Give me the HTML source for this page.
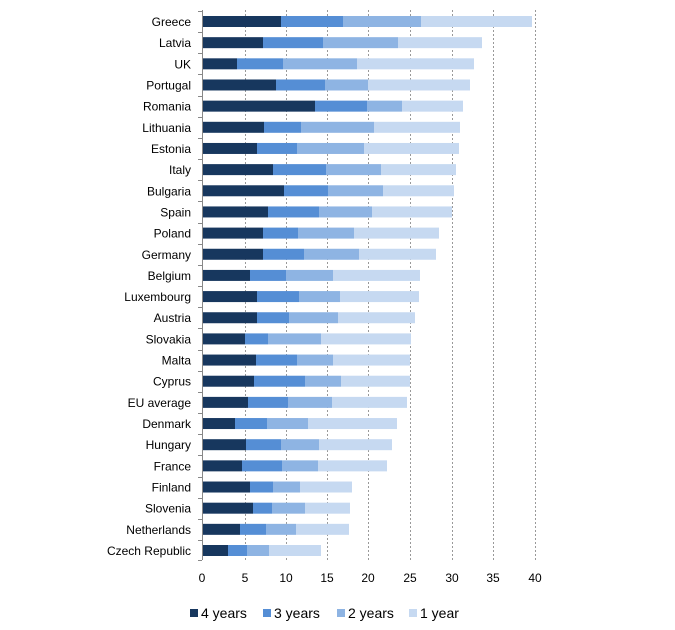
<!DOCTYPE html>
<html><head><meta charset="utf-8"><style>
html,body{margin:0;padding:0;background:#fff;}
svg{display:block;font-family:"Liberation Sans",Arial,sans-serif;}
</style></head><body>
<svg width="675" height="630" viewBox="0 0 675 630" xmlns="http://www.w3.org/2000/svg">
<g stroke="#999" stroke-width="1" stroke-dasharray="2,2">
<line x1="245.5" y1="10" x2="245.5" y2="560"/>
<line x1="286.5" y1="10" x2="286.5" y2="560"/>
<line x1="327.5" y1="10" x2="327.5" y2="560"/>
<line x1="368.5" y1="10" x2="368.5" y2="560"/>
<line x1="410.5" y1="10" x2="410.5" y2="560"/>
<line x1="452.5" y1="10" x2="452.5" y2="560"/>
<line x1="493.5" y1="10" x2="493.5" y2="560"/>
<line x1="535.5" y1="10" x2="535.5" y2="560"/>
</g>
<g id="bars"></g>
<line x1="202.5" y1="10" x2="202.5" y2="560" stroke="#888" stroke-width="1"/>
<g id="ticks" stroke="#888"></g>
<g id="labels" font-size="12" fill="#000" text-anchor="end"></g>
<g font-size="12" fill="#000" text-anchor="middle">
<text x="202" y="582">0</text><text x="245" y="582">5</text><text x="286" y="582">10</text>
<text x="327" y="582">15</text><text x="368" y="582">20</text><text x="410" y="582">25</text>
<text x="452" y="582">30</text><text x="493" y="582">35</text><text x="535" y="582">40</text>
</g>
<g font-size="14" fill="#000">
<rect x="190" y="609" width="8" height="8" fill="#17375e"/><text x="201" y="618">4 years</text>
<rect x="263" y="609" width="8" height="8" fill="#558ed5"/><text x="274" y="618">3 years</text>
<rect x="337" y="609" width="8" height="8" fill="#8eb4e3"/><text x="348" y="618">2 years</text>
<rect x="409" y="609" width="8" height="8" fill="#c6d9f1"/><text x="420" y="618">1 year</text>
</g>
<script>
var d=[["Greece",281,343,421,532],["Latvia",263,323,398,482],["UK",237,283,357,474],["Portugal",276,325,368,470],["Romania",315,367,402,463],["Lithuania",264,301,374,460],["Estonia",257,297,364,459],["Italy",273,326,381,456],["Bulgaria",284,328,383,454],["Spain",268,319,372,452],["Poland",263,298,354,439],["Germany",263,304,359,436],["Belgium",250,286,333,420],["Luxembourg",257,299,340,419],["Austria",257,289,338,415],["Slovakia",245,268,321,411],["Malta",256,297,333,410],["Cyprus",254,305,341,410],["EU average",248,288,332,407],["Denmark",235,267,308,397],["Hungary",246,281,319,392],["France",242,282,318,387],["Finland",250,273,300,352],["Slovenia",253,272,305,350],["Netherlands",240,266,296,349],["Czech Republic",228,247,269,321]];
var c=["#17375e","#558ed5","#8eb4e3","#c6d9f1"],ns="http://www.w3.org/2000/svg";
var b=document.getElementById("bars"),l=document.getElementById("labels"),t=document.getElementById("ticks");
d.forEach(function(r,i){var y=16+i*21.16,x0=202;
for(var k=0;k<4;k++){var e=document.createElementNS(ns,"rect");e.setAttribute("x",x0);e.setAttribute("y",y);e.setAttribute("width",r[k+1]-x0);e.setAttribute("height",11);e.setAttribute("fill",c[k]);b.appendChild(e);x0=r[k+1];}
var s=document.createElementNS(ns,"text");s.setAttribute("x",191);s.setAttribute("y",y+10);s.textContent=r[0];l.appendChild(s);
var ty=Math.round(y-5)+0.5;var tk=document.createElementNS(ns,"line");tk.setAttribute("x1",198);tk.setAttribute("x2",202);tk.setAttribute("y1",ty);tk.setAttribute("y2",ty);t.appendChild(tk);});
var tk=document.createElementNS(ns,"line");tk.setAttribute("x1",198);tk.setAttribute("x2",202);tk.setAttribute("y1",560.5);tk.setAttribute("y2",560.5);t.appendChild(tk);
</script>
</svg>
</body></html>
